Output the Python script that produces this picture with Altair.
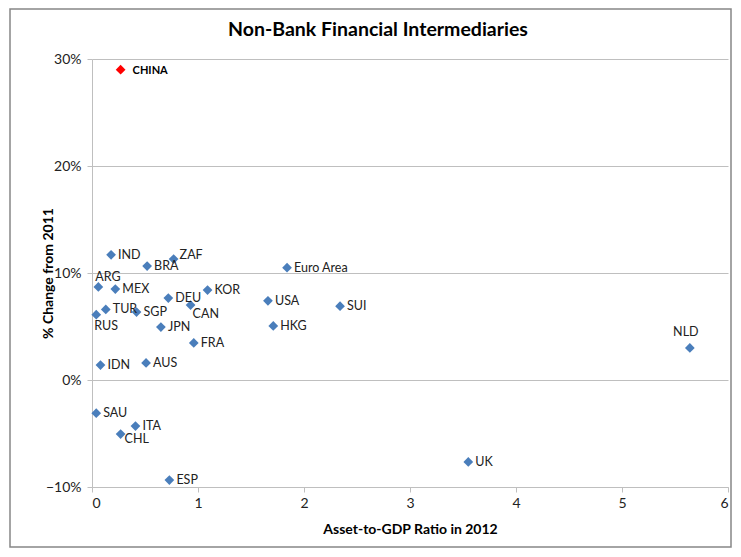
import altair as alt
import pandas as pd

# --- data ---
countries = ["IND", "BRA", "ZAF", "ARG", "MEX", "DEU", "KOR", "TUR", "RUS", "SGP",
             "CAN", "JPN", "FRA", "IDN", "AUS", "SAU", "ITA", "CHL", "ESP", "USA",
             "HKG", "Euro Area", "SUI", "NLD", "UK"]
asset_gdp = [0.18, 0.52, 0.77, 0.06, 0.22, 0.72, 1.09, 0.13, 0.04, 0.42,
             0.93, 0.65, 0.96, 0.08, 0.51, 0.04, 0.41, 0.27, 0.73, 1.66,
             1.71, 1.84, 2.34, 5.64, 3.55]
pct_change = [0.117, 0.1065, 0.113, 0.087, 0.085, 0.0766, 0.084, 0.066, 0.061, 0.0635,
              0.070, 0.0495, 0.0346, 0.014, 0.016, -0.031, -0.043, -0.0505, -0.0935, 0.074,
              0.0505, 0.105, 0.069, 0.030, -0.0766]

china_name = ["CHINA"]
china_x = [0.27]
china_y = [0.29]

df = pd.DataFrame({"country": countries, "ratio": asset_gdp, "change": pct_change})
df_china = pd.DataFrame({"country": china_name, "ratio": china_x, "change": china_y})

# label placement groups (style only): (dx, dy, align)
placements = {
    "right": (7, 0, "left"),
    "above": (-3, -10, "left"),
    "below": (-2, 11, "left"),
    "belowright": (2, 9, "left"),
    "slightbelow": (4, 5, "left"),
    "aboveright": (6, -4, "left"),
    "abovecenter": (-4, -16, "center"),
}
special = {"ARG": "above", "RUS": "below", "CAN": "belowright", "CHL": "slightbelow",
           "ZAF": "aboveright", "NLD": "abovecenter"}

FONT = "Lato"
BLUE = "#4A7EBB"
AXGRAY = "#BFBFBF"
BORDER = "#868686"

W, H = 636, 428

xscale = alt.Scale(domain=[0, 6], nice=False, zero=False)
yscale = alt.Scale(domain=[-0.1, 0.3], nice=False, zero=False)

x_enc = alt.X("ratio:Q", scale=xscale,
              axis=alt.Axis(title="Asset-to-GDP Ratio in 2012", values=[0, 1, 2, 3, 4, 5, 6],
                            format="d", grid=False, tickSize=5, labelPadding=4,
                            titlePadding=12))
y_enc = alt.Y("change:Q", scale=yscale,
              axis=alt.Axis(title="% Change from 2011", values=[-0.1, 0, 0.1, 0.2, 0.3],
                            format=".0%", grid=True, tickSize=5, labelPadding=6,
                            titleX=-44, titleY=H / 2, titleAngle=270,
                            titleAlign="center", titleBaseline="middle"))

base = alt.Chart(df)

points = base.mark_point(shape="diamond", filled=True, size=95, color=BLUE, opacity=1).encode(
    x=x_enc, y=y_enc)

china_pt = alt.Chart(df_china).mark_point(shape="diamond", filled=True, size=95,
                                          color="#FF0000", opacity=1).encode(
    x=alt.X("ratio:Q", scale=xscale), y=alt.Y("change:Q", scale=yscale))
china_lbl = alt.Chart(df_china).mark_text(align="left", baseline="middle", dx=12, dy=1,
                                          font=FONT, fontSize=11, fontWeight="bold",
                                          color="black").encode(
    x=alt.X("ratio:Q", scale=xscale), y=alt.Y("change:Q", scale=yscale), text="country:N")

text_layers = []
for key, (dx, dy, align) in placements.items():
    if key == "right":
        members = [c for c in countries if c not in special]
    else:
        members = [c for c, p in special.items() if p == key]
    if not members:
        continue
    t = base.transform_filter(
        alt.FieldOneOfPredicate(field="country", oneOf=members)
    ).mark_text(align=align, baseline="middle", dx=dx, dy=dy, font=FONT,
                fontSize=12.5, color="#222222").encode(
        x=alt.X("ratio:Q", scale=xscale), y=alt.Y("change:Q", scale=yscale),
        text="country:N")
    text_layers.append(t)

border = alt.Chart(df_china).mark_rect(fill=None, stroke=BORDER, strokeWidth=1.5).encode(
    x=alt.value(-82), x2=alt.value(639), y=alt.value(-50), y2=alt.value(488))

chart = alt.layer(border, points, *text_layers, china_pt, china_lbl).properties(
    width=W, height=H,
    autosize=alt.AutoSizeParams(type="none"),
    padding={"left": 84, "top": 51, "right": 5, "bottom": 62},
    background="white",
    title=alt.TitleParams("Non-Bank Financial Intermediaries", font=FONT, fontSize=19.5,
                          fontWeight="bold", color="black", anchor="middle", dx=-32,
                          offset=-32),
).configure_view(stroke=None).configure_axis(
    domainColor=AXGRAY, tickColor=AXGRAY, gridColor=AXGRAY, gridWidth=1,
    labelFont=FONT, labelFontSize=14, labelColor="#222222",
    titleFont=FONT, titleFontSize=14, titleFontWeight="bold", titleColor="black",
)

chart.save("out.html", embed_options={"renderer": "svg", "actions": False})
